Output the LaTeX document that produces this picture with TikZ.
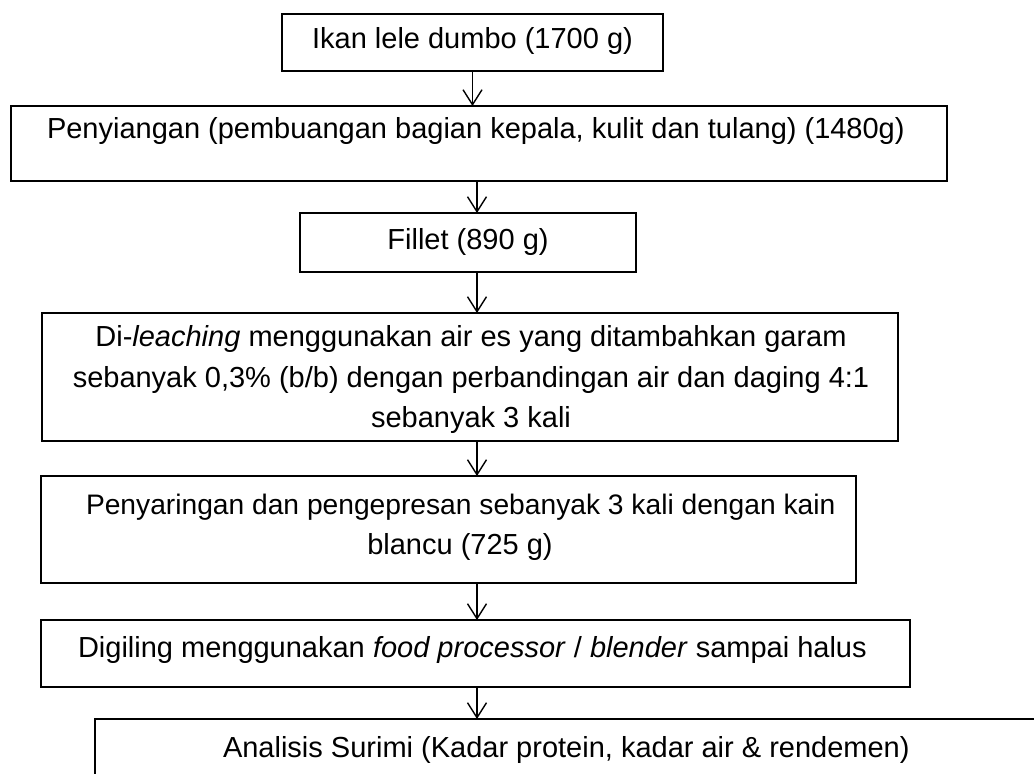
\documentclass[tikz,border=0pt]{standalone}
\usepackage{fontspec}
\setmainfont{Liberation Sans}
\usetikzlibrary{arrows.meta}
\begin{document}
\begin{tikzpicture}[x=0.5pt,y=-0.5pt,
  box/.style={draw, line width=1pt, inner sep=0pt, outer sep=0pt},
  txt/.style={inner sep=0pt, outer sep=0pt, font=\fontsize{14.5}{20.25}\selectfont},
  arr/.style={line width=0.7pt, -{Straight Barb[length=7.5pt,width=9.5pt]}}]
\useasboundingbox (0,0) rectangle (1034,774);
\clip (0,0) rectangle (1034,774);
\fill[white] (0,0) rectangle (1034,774);
% boxes
\node[box, minimum width=190.5pt, minimum height=28.5pt] (b1) at (472.5,42.5) {};
\node[box, minimum width=468pt, minimum height=37.5pt] (b2) at (479,143.5) {};
\node[box, minimum width=168pt, minimum height=29.5pt] (b3) at (468,242.5) {};
\node[box, minimum width=428pt, minimum height=64pt] (b4) at (470,377) {};
\node[box, minimum width=407.5pt, minimum height=53.5pt] (b5) at (448.5,529.5) {};
\node[box, minimum width=434.5pt, minimum height=33.5pt] (b6) at (475.5,653.5) {};
\node[box, minimum width=492.5pt, minimum height=55.5pt] (b7) at (587.5,774.5) {};
% texts
\node[txt, anchor=base] (t1) at (472.5,49) {Ikan lele dumbo (1700 g)};
\node[txt, anchor=base west] (t2) at (47,139) {Penyiangan (pembuangan bagian kepala, kulit dan tulang) (1480g)};
\node[txt, anchor=base] (t3) at (468,250) {Fillet (890 g)};
\node[txt, anchor=base] (t4a) at (471,347) {Di-\textit{leaching} menggunakan air es yang ditambahkan garam};
\node[txt, anchor=base] (t4b) at (471,388) {sebanyak 0,3\% (b/b) dengan perbandingan air dan daging 4:1};
\node[txt, anchor=base] (t4c) at (471,428) {sebanyak 3 kali};
\node[txt, anchor=base west, font=\fontsize{14.1}{20.25}\selectfont] (t5a) at (86,515) {Penyaringan dan pengepresan sebanyak 3 kali dengan kain};
\node[txt, anchor=base] (t5b) at (460,555) {blancu (725 g)};
\node[txt, anchor=base west] (t6) at (78,658) {Digiling menggunakan \textit{food processor} / \textit{blender} sampai halus};
\node[txt, anchor=base west] (t7) at (223,758) {Analisis Surimi (Kadar protein, kadar air \& rendemen)};
% arrows
\coordinate (ax) at (477,0);
\draw[arr] (b1.south) -- (b1.south |- b2.north);
\draw[arr] (b2.south -| ax) -- (b3.north -| ax);
\draw[arr] (b3.south -| ax) -- (b4.north -| ax);
\draw[arr] (b4.south -| ax) -- (b5.north -| ax);
\draw[arr] (b5.south -| ax) -- (b6.north -| ax);
\draw[arr] (b6.south -| ax) -- (b7.north -| ax);
\end{tikzpicture}
\end{document}
